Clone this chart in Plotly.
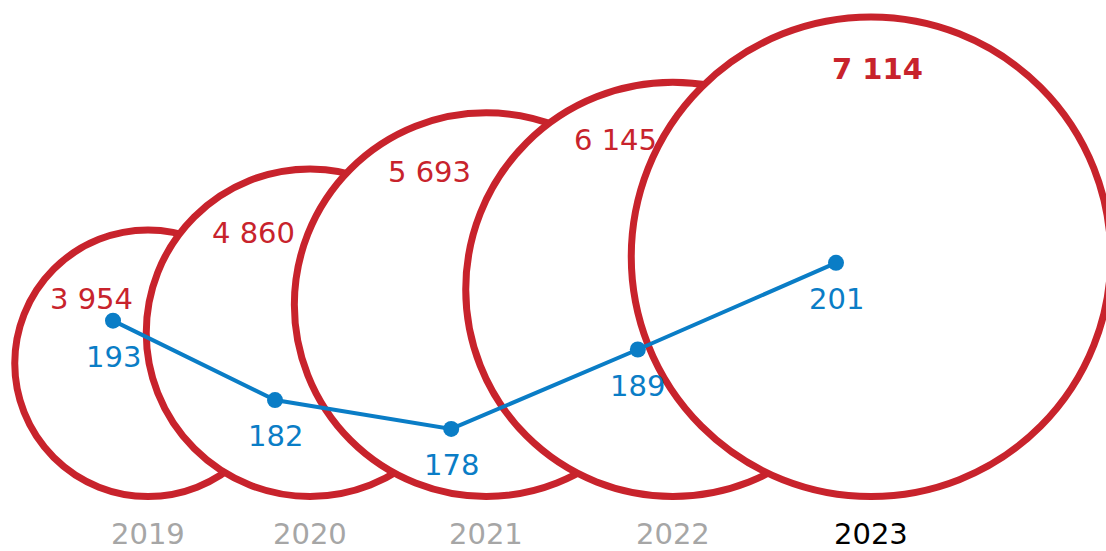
import plotly.graph_objects as go

# ---- data ----
years = ["2019", "2020", "2021", "2022", "2023"]
circle_values = [3954, 4860, 5693, 6145, 7114]      # red circles (size)
line_values = [193, 182, 178, 189, 201]             # blue line
circle_labels = ["3 954", "4 860", "5 693", "6 145", "7 114"]
line_labels = ["193", "182", "178", "189", "201"]
highlight = "2023"

# ---- style / layout constants ----
W, H = 1106, 551
RED = "#c8232c"
BLUE = "#0a7dc6"
GREY = "#a6a6a6"
FONT = "DejaVu Sans, Verdana, sans-serif"
K = 0.0337          # pixels of radius per unit value
BASE = 54.5         # common bottom of circles (from bottom of canvas)
FIRST_C, LAST_C = 148, 871

radii = [v * K for v in circle_values]
n = len(years)
r_max = max(radii)
# even spacing blended with radius-proportional spacing
even = [FIRST_C + i * (LAST_C - FIRST_C) / (n - 1) for i in range(n)]
sums = [radii[i - 1] + radii[i] for i in range(1, n)]
g = (LAST_C - FIRST_C) / sum(sums)
prop = [FIRST_C]
for s in sums:
    prop.append(prop[-1] + g * s)
centers = [(a + b) / 2 for a, b in zip(even, prop)]

fig = go.Figure()

shapes = []
for cx, r in zip(centers, radii):
    shapes.append(dict(type="circle", xref="x", yref="y", layer="below",
                       x0=cx - r, x1=cx + r, y0=BASE, y1=BASE + 2 * r,
                       fillcolor="white", line=dict(color=RED, width=7)))

line_x = [c - 35 for c in centers]
fig.add_trace(go.Scatter(x=line_x, y=line_values, yaxis="y2", mode="lines+markers",
                         line=dict(color=BLUE, width=4),
                         marker=dict(color=BLUE, size=16),
                         hoverinfo="skip", showlegend=False))

ann = []
for i, yr in enumerate(years):
    hl = yr == highlight
    r = radii[i]
    top = BASE + 2 * r
    drop = 52 + 0.16 * (r_max - r)
    ann.append(dict(x=centers[i] + (6 if hl else -57), y=top - drop, xref="x", yref="y",
                    text=f"<b>{circle_labels[i]}</b>" if hl else circle_labels[i],
                    showarrow=False, font=dict(family=FONT, size=29, color=RED)))
    ann.append(dict(x=line_x[i], y=line_values[i], xref="x", yref="y2", yshift=-36,
                    text=line_labels[i], showarrow=False,
                    font=dict(family=FONT, size=29, color=BLUE)))
    ann.append(dict(x=centers[i], y=17, xref="x", yref="y", text=yr, showarrow=False,
                    font=dict(family=FONT, size=29, color="black" if hl else GREY)))

fig.update_layout(
    width=W, height=H, margin=dict(l=0, r=0, t=0, b=0),
    paper_bgcolor="white", plot_bgcolor="white",
    xaxis=dict(range=[0, W], visible=False, fixedrange=True),
    yaxis=dict(range=[0, H], visible=False, fixedrange=True),
    yaxis2=dict(range=[161.1, 237.4], overlaying="y", visible=False, fixedrange=True),
    shapes=shapes, annotations=ann,
)

fig.write_html("out.html", config={"displayModeBar": False},
               post_script="document.body.style.margin='0';document.body.style.overflow='hidden';")
